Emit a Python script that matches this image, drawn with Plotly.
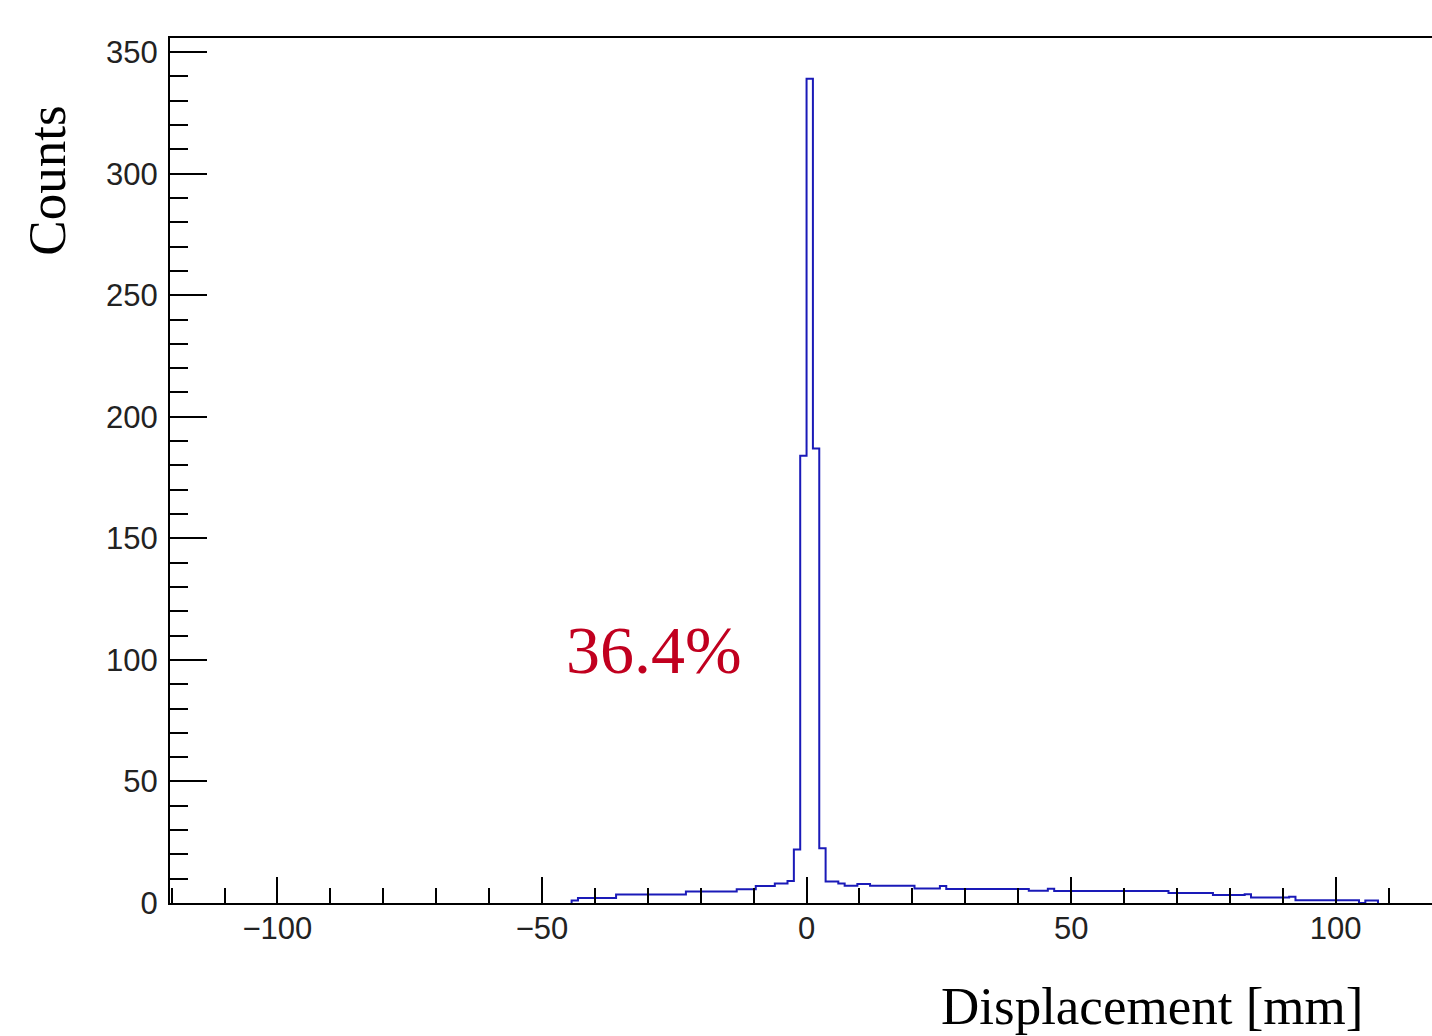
import plotly.graph_objects as go

# Histogram runs (bin edges in mm, counts per bin)
bin_edges = [-44.4, -43.2, -36.0, -22.8, -13.2, -9.6, -6.0, -3.6, -2.4, -1.2, 0.0,
             1.2, 2.4, 3.6, 6.0, 7.2, 9.6, 12.0, 20.4, 25.2, 26.4, 42.0, 45.6,
             46.8, 68.4, 76.8, 82.8, 84.0, 91.2, 92.4, 104.4, 105.6, 108.0]
counts = [1.0, 2.1, 3.5, 4.7, 5.7, 7.0, 8.0, 9.0, 22.0, 184.0,
          339.0, 187.0, 22.5, 8.8, 8.0, 7.1, 7.8, 7.1, 6.0, 7.0, 5.8, 5.0,
          5.9, 4.9, 4.1, 3.3, 3.6, 2.3, 2.6, 1.1, 0.0, 1.0]

x_range = [-120.3, 118.2]
y_range = [0, 355.8]
x_major = [-100, -50, 0, 50, 100]
x_major_labels = ["\u2212100", "\u221250", "0", "50", "100"]
y_major = [0, 50, 100, 150, 200, 250, 300, 350]

annot_text = "36.4%"
annot_x, annot_y = -28.8, 104

# step outline: rise from zero at the first edge, fall back to zero at the last
xs = [bin_edges[0]] + bin_edges
ys = [0.0] + counts + [0.0]

fig = go.Figure()
fig.add_trace(go.Scatter(x=xs, y=ys, mode="lines", line_shape="hv",
                         line=dict(color="#1a1ab8", width=2), hoverinfo="skip",
                         showlegend=False))

tickfont = dict(family="Liberation Sans, Arial, sans-serif", size=31, color="#222222")

fig.update_xaxes(range=x_range, showgrid=False, zeroline=False,
                 showline=True, linecolor="black", linewidth=2, mirror=True,
                 ticks="inside", ticklen=26, tickwidth=2, tickcolor="black",
                 tickvals=x_major, ticktext=x_major_labels, tickfont=tickfont,
                 ticklabelstandoff=-3,
                 minor=dict(ticks="inside", ticklen=15, tickwidth=2,
                            tickcolor="black", dtick=10, tick0=0, showgrid=False))
fig.update_yaxes(range=y_range, showgrid=False, zeroline=False,
                 showline=True, linecolor="black", linewidth=2, mirror=False,
                 ticks="inside", ticklen=37, tickwidth=2, tickcolor="black",
                 tickvals=y_major, tickfont=tickfont, ticklabelstandoff=4,
                 minor=dict(ticks="inside", ticklen=18, tickwidth=2,
                            tickcolor="black", dtick=10, tick0=0, showgrid=False))

serif = "Liberation Serif, Times New Roman, serif"
fig.add_annotation(text="Counts", textangle=-90, xref="paper", yref="paper",
                   x=-0.0975, y=0.835, xanchor="center", yanchor="middle",
                   showarrow=False, font=dict(family=serif, size=53, color="black"))
fig.add_annotation(text="Displacement [mm]", xref="paper", yref="paper",
                   x=0.947, y=-0.119, xanchor="right", yanchor="middle",
                   showarrow=False, font=dict(family=serif, size=53, color="black"))
fig.add_annotation(text=annot_text, xref="x", yref="y", x=annot_x, y=annot_y,
                   xanchor="center", yanchor="middle", showarrow=False,
                   font=dict(family=serif, size=68, color="#c1001f"))

fig.update_layout(width=1432, height=1036, plot_bgcolor="white", paper_bgcolor="white",
                  margin=dict(l=170, r=0, t=38, b=133), showlegend=False)

fig.write_html("out.html", config={"displayModeBar": False},
               post_script="document.body.style.margin='0';"
                           "document.documentElement.style.overflow='hidden';")
